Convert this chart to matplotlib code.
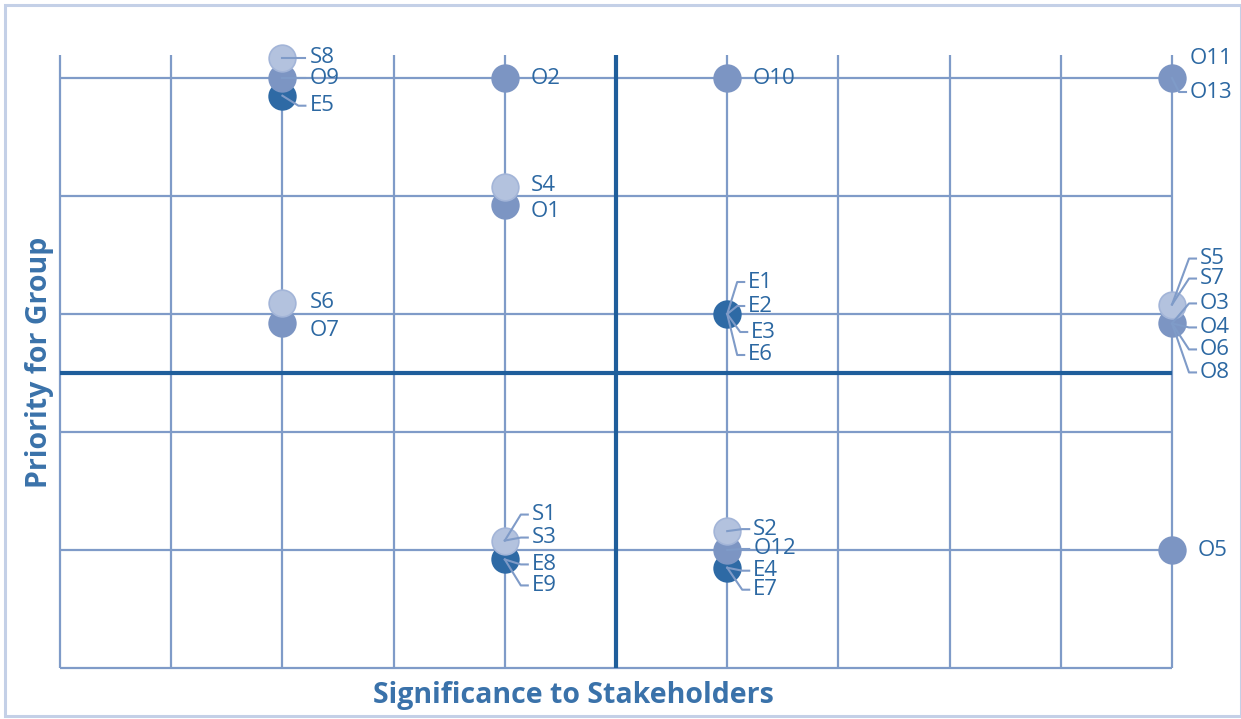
import matplotlib
matplotlib.use("Agg")
import matplotlib.pyplot as plt
from matplotlib.patches import Rectangle

# ---------------- data ----------------
x_ticks = [0, 1, 2, 3, 4, 5, 6, 7, 8, 9, 10]
y_ticks = [0, 1, 2, 3, 4, 5]
x_mid = 5
y_mid = 2.5

marker_x = [2, 2, 2, 4, 6, 10, 4, 4, 2, 2, 6, 10, 10, 4, 4, 6, 6, 6, 10]
marker_y = [5.17, 5.0, 4.85, 5.0, 5.0, 5.0, 4.08, 3.92, 3.09, 2.92, 3.0,
            3.08, 2.92, 1.08, 0.92, 1.16, 1.0, 0.85, 1.0]
marker_group = ['S', 'O', 'E', 'O', 'O', 'O', 'S', 'O', 'S', 'O', 'E',
                'S', 'O', 'S', 'E', 'S', 'O', 'E', 'O']
marker_labels = [['S8'], ['O9'], ['E5'], ['O2'], ['O10'], ['O11', 'O13'],
                 ['S4'], ['O1'], ['S6'], ['O7'], ['E1', 'E2', 'E3', 'E6'],
                 ['S5', 'S7'], ['O3', 'O4', 'O6', 'O8'], ['S1', 'S3'],
                 ['E8', 'E9'], ['S2'], ['O12'], ['E4', 'E7'], ['O5']]

x_title = "Significance to Stakeholders"
y_title = "Priority for Group"

# ---------------- layout / style ----------------
# label offsets in pixels from marker centre (dx right, dy down), leader flag
label_layout = {
    'S8': (27, 0, True), 'O9': (27, 0, True), 'E5': (27, 10, True),
    'O2': (26, 0, False), 'O10': (25, 0, False),
    'O11': (18, -20, False), 'O13': (18, 14, True),
    'S4': (26, -1, False), 'O1': (26, 6, False),
    'S6': (27, -1, False), 'O7': (27, 7, False),
    'E1': (21, -32, True), 'E2': (21, -8, True), 'E3': (24, 18, True), 'E6': (21, 41, True),
    'S5': (28, -46, True), 'S7': (28, -26, True),
    'O3': (28, -20, True), 'O4': (28, 4, True), 'O6': (28, 26, True), 'O8': (28, 49, True),
    'S1': (27, -26, True), 'S3': (27, -3, True),
    'E8': (27, 5, True), 'E9': (27, 26, True),
    'S2': (26, -2, True), 'O12': (26, -1, True),
    'E4': (26, 3, True), 'E7': (26, 22, True),
    'O5': (26, 0, False),
}
group_fill = {'S': '#b3c2de', 'O': '#7c95c3', 'E': '#2e6aa5'}
group_edge = {'S': '#a3b5d8', 'O': '#7c95c3', 'E': '#2e6aa5'}
group_z = {'E': 3, 'O': 4, 'S': 5}
grid_col = '#7f9bc8'
mid_col = '#1f5e9b'
text_col = '#2c68a2'
title_col = '#3a72aa'
lead_col = '#7f9bc8'

W, H = 1241, 719
fig = plt.figure(figsize=(W / 100, H / 100), dpi=100)
ax = fig.add_axes([0, 0, 1, 1])
ax.set_axis_off()

px_x0, px_per_x = 60, 111.2
py_y0, py_per_y = 668, 118
ax.set_xlim(-px_x0 / px_per_x, (W - px_x0) / px_per_x)
ax.set_ylim((py_y0 - H) / py_per_y, py_y0 / py_per_y)

top_ext = 5 + 23 / py_per_y
# grid
for xv in x_ticks:
    ax.plot([xv, xv], [y_ticks[0], top_ext], color=grid_col, lw=1.6, zorder=1,
            solid_capstyle='butt')
for yv in y_ticks:
    ax.plot([x_ticks[0], x_ticks[-1]], [yv, yv], color=grid_col, lw=1.6, zorder=1,
            solid_capstyle='butt')
ax.plot([x_mid, x_mid], [y_ticks[0], top_ext], color=mid_col, lw=3, zorder=2,
        solid_capstyle='butt')
ax.plot([x_ticks[0], x_ticks[-1]], [y_mid, y_mid], color=mid_col, lw=3, zorder=2,
        solid_capstyle='butt')

# markers
for x, y, g in zip(marker_x, marker_y, marker_group):
    ax.scatter([x], [y], s=370, color=group_fill[g], edgecolors=group_edge[g],
               linewidths=1.2, zorder=group_z[g])

# labels and leaders
def off(x, y, dx, dy):
    return x + dx / px_per_x, y - dy / py_per_y

for x, y, labs in zip(marker_x, marker_y, marker_labels):
    for lab in labs:
        dx, dy, lead = label_layout[lab]
        tx, ty = off(x, y, dx, dy)
        ax.text(tx, ty, lab, fontsize=16, color=text_col, family='Open Sans',
                ha='left', va='center', zorder=10)
        if lead:
            ex, ey = off(x, y, dx - 11, dy)
            fx, fy = off(x, y, dx - 4, dy)
            ax.plot([x, ex, fx], [y, ey, fy], color=lead_col, lw=1.5, zorder=8)

# titles
ax.text((573 - px_x0) / px_per_x, (py_y0 - 695) / py_per_y, x_title,
        fontsize=20.5, fontweight='bold', color=title_col, family='Open Sans',
        ha='center', va='center')
ax.text((40 - px_x0) / px_per_x, (py_y0 - 362) / py_per_y, y_title,
        fontsize=20.5, fontweight='bold', color=title_col, family='Open Sans',
        ha='center', va='center', rotation=90)

# frame
fig.patches.append(Rectangle((5 / W, 1 - 716 / H), (W - 5) / W, 711 / H,
                             transform=fig.transFigure, fill=False,
                             edgecolor='#c4d0e7', lw=2.2))

fig.savefig('out.png', dpi=100)
